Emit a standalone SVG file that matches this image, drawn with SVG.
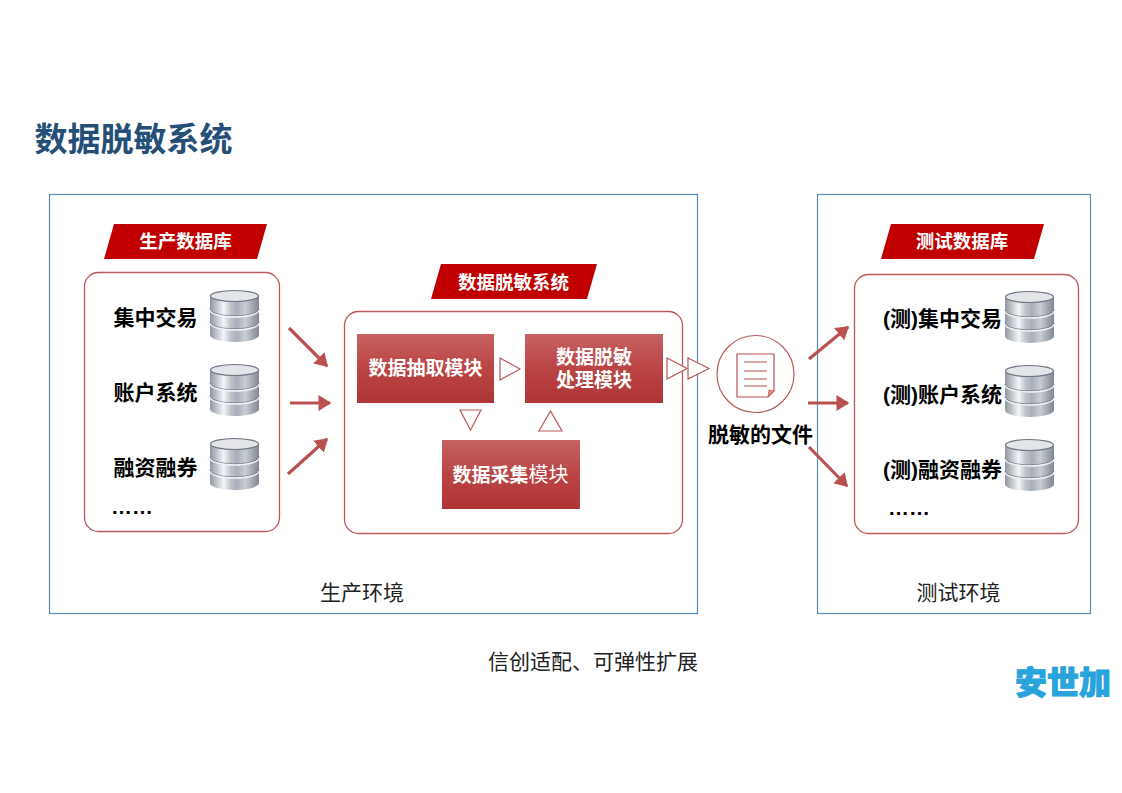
<svg xmlns="http://www.w3.org/2000/svg" xmlns:xlink="http://www.w3.org/1999/xlink" width="1122" height="793" viewBox="0 0 1122 793">
<style>
text{font-family:"Liberation Sans","Noto Sans CJK SC",sans-serif;text-anchor:middle}
.env{fill:#fff;stroke:#5b8db8;stroke-width:1.2}
.panel{fill:#fff;stroke:#b9595a;stroke-width:1.3}
.tag{fill:#c00000}
.tagt{fill:#fff;font-size:18.500px;font-weight:700}
.mod{fill:url(#modg)}
.modt{fill:#fff;font-size:19px;font-weight:700}
.item{fill:#000;font-size:21px;font-weight:700}
.lab{fill:#222;font-size:21px}
.tri{fill:#fff;stroke:#b9595a;stroke-width:1.2}
.arr{stroke:#bb5050;stroke-width:3.2;fill:none;marker-end:url(#ah)}
.doc{fill:none;stroke:#bb5050;stroke-width:1.2}
</style>
<defs>
<linearGradient id="modg" x1="0" y1="0" x2="0" y2="1"><stop offset="0" stop-color="#c46362"/><stop offset="0.5" stop-color="#bb4444"/><stop offset="1" stop-color="#ae3535"/></linearGradient>
<linearGradient id="cyl" x1="0" y1="0" x2="1" y2="0"><stop offset="0" stop-color="#8f96a2"/><stop offset="0.28" stop-color="#f4f5f7"/><stop offset="0.42" stop-color="#bfc4cc"/><stop offset="0.55" stop-color="#a9afba"/><stop offset="0.72" stop-color="#c9cdd4"/><stop offset="1" stop-color="#7f8794"/></linearGradient>
<marker id="ah" markerWidth="6" markerHeight="6" refX="3.6" refY="2.5" orient="auto"><path d="M0 0L4 2.5L0 5z" fill="#bb5050"/></marker>
<g id="db">
<path d="M0 7V45C0 49 11 52 24.500 52S49 49 49 45V7z" fill="url(#cyl)"/>
<ellipse cx="24.500" cy="6" rx="24" ry="5.500" fill="#e3e5e8" stroke="#6d7582" stroke-width="1.200"/>
<path d="M0 20C0 24 11 27 24.500 27S49 24 49 20M0 33C0 37 11 40 24.500 40S49 37 49 33" fill="none" stroke="#6d7582" stroke-width="0.800" transform="translate(0 -1.200)"/>
<path d="M0 20C0 24 11 27 24.500 27S49 24 49 20M0 33C0 37 11 40 24.500 40S49 37 49 33" fill="none" stroke="#f1f2f4" stroke-width="1.300"/>
</g>
</defs>
<rect width="1122" height="793" fill="#fff"/>
<text id="title" x="133.500" y="151" style="font-size:33px;font-weight:700;fill:#264f78">数据脱敏系统</text>
<rect id="env-prod" class="env" x="49.500" y="194.500" width="648" height="419"/>
<rect id="env-test" class="env" x="817.500" y="194.500" width="273" height="419"/>
<text class="lab" x="362" y="600">生产环境</text>
<text class="lab" x="958.500" y="600">测试环境</text>
<g id="prod-db">
<path class="tag" d="M114 224H267L257 259H104z"/><text class="tagt" x="185.500" y="248">生产数据库</text>
<rect class="panel" x="84.500" y="272.500" width="195" height="259" rx="14"/>
<text class="item" x="155.500" y="324.500">集中交易</text><use href="#db" x="210" y="290"/>
<text class="item" x="155.500" y="399.500">账户系统</text><use href="#db" x="210" y="364"/>
<text class="item" x="155.500" y="474.500">融资融券</text><use href="#db" x="210" y="438"/>
<text class="item" x="132" y="514">……</text>
</g>
<g id="mask-sys">
<path class="tag" d="M441 264H597L587 299H431z"/><text class="tagt" x="513.500" y="289">数据脱敏系统</text>
<rect class="panel" x="344.500" y="311.500" width="338" height="222" rx="14"/>
</g>
<g id="mod-extract"><rect class="mod" x="357" y="334" width="137" height="69"/><text class="modt" x="425.500" y="375">数据抽取模块</text></g>
<g id="mod-process"><rect class="mod" x="525" y="334" width="138" height="69"/><text class="modt" x="594" y="364">数据脱敏</text><text class="modt" x="594" y="387">处理模块</text></g>
<g id="mod-collect"><rect class="mod" x="442" y="440" width="138" height="69"/><text class="modt" x="510.500" y="482">数据采集<tspan font-weight="400" font-size="20">模块</tspan></text></g>
<g id="flow-tris">
<path class="tri" d="M500 358V380L520 369z"/>
<path class="tri" d="M460 410H481L470.500 430z"/>
<path class="tri" d="M539 431H562L550.500 411z"/>
<path class="tri" d="M667 358V379L687 368.500z"/>
<path class="tri" d="M688 358V379L709 368.500z"/>
</g>
<g id="doc">
<circle cx="755.500" cy="374" r="38.500" fill="#fff" stroke="#b9595a" stroke-width="1.200"/>
<path class="doc" d="M737 354H774V391L768 397H737z"/>
<path class="doc" d="M744 362H767M744 371H767M744 379H767M744 386H767"/>
<path d="M768 397L774 391L769 390z" fill="#d99" stroke="#bb5050" stroke-width="0.800"/>
<text x="760.500" y="442" style="font-size:21px;font-weight:700;fill:#000">脱敏的文件</text>
</g>
<g id="test-db">
<path class="tag" d="M891 224H1044L1034 259H881z"/><text class="tagt" x="962" y="248">测试数据库</text>
<rect class="panel" x="854.500" y="274.500" width="224" height="259" rx="14"/>
<text class="item" x="942.500" y="325.500">(测)集中交易</text><use href="#db" x="1005" y="291"/>
<text class="item" x="942.500" y="401.500">(测)账户系统</text><use href="#db" x="1005" y="365"/>
<text class="item" x="942.500" y="476.500">(测)融资融券</text><use href="#db" x="1005" y="439"/>
<text class="item" x="909" y="515">……</text>
</g>
<g id="connectors">
<path class="arr" d="M289 328L327 366"/>
<path class="arr" d="M290 403H330"/>
<path class="arr" d="M288 474L327 439"/>
<path class="arr" d="M809 359L848 327"/>
<path class="arr" d="M808 403H848"/>
<path class="arr" d="M809 447L847 486"/>
</g>
<text id="note" x="593" y="669" style="font-size:21px;fill:#222">信创适配、可弹性扩展</text>
<text id="logo" x="1063" y="694" style="font-size:32px;font-weight:900;fill:#29a3dc;stroke:#29a3dc;stroke-width:1">安世加</text>
</svg>
